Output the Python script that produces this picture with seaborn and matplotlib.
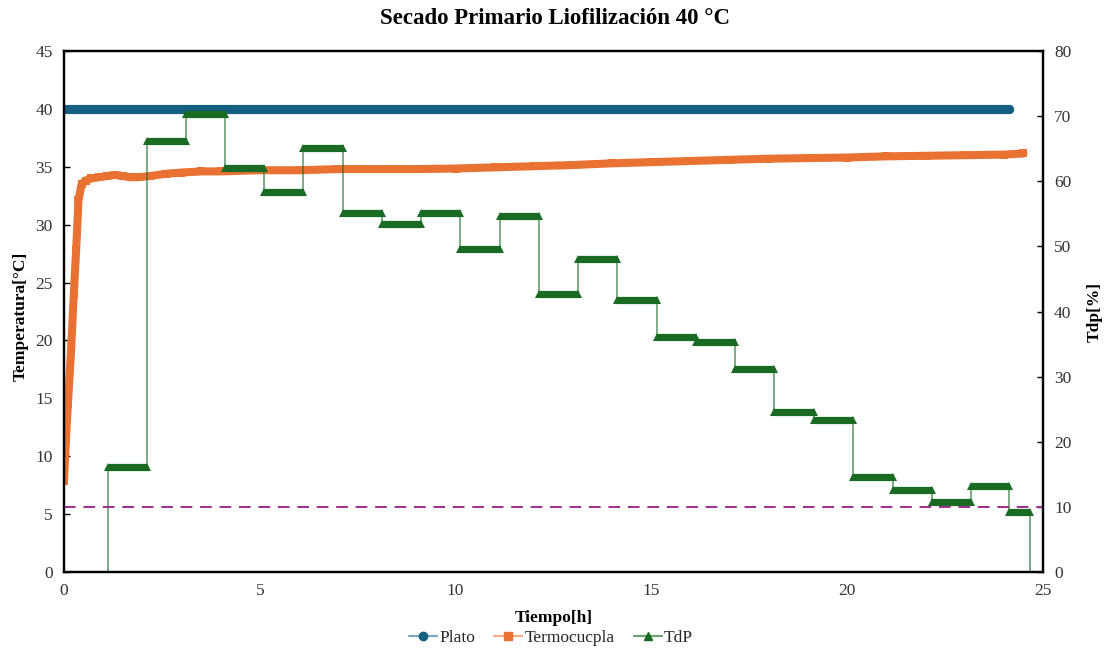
import matplotlib
matplotlib.use("Agg")
import matplotlib.pyplot as plt
from matplotlib.lines import Line2D
import pandas as pd
import seaborn as sns

# ---- data ----
plato_t = [0.0, 24.12]
plato_temp = [40.0, 40.0]

termo_t = [0.0, 0.05, 0.10, 0.18, 0.25, 0.31, 0.37, 0.45, 0.55, 0.70, 0.90,
           1.10, 1.30, 1.50, 1.70, 1.90, 2.20, 2.60, 3.00, 3.50, 4.00, 5.00,
           6.00, 7.00, 8.00, 9.00, 10.0, 11.0, 12.0, 13.0, 14.0, 15.0, 16.0,
           17.0, 18.0, 19.0, 20.0, 21.0, 22.0, 23.0, 24.0, 24.5]
termo_temp = [7.9, 11.5, 14.5, 19.1, 24.0, 27.8, 32.1, 33.5, 33.8, 34.0, 34.1,
              34.2, 34.3, 34.2, 34.1, 34.1, 34.2, 34.4, 34.5, 34.6, 34.6, 34.7,
              34.7, 34.8, 34.8, 34.8, 34.85, 34.95, 35.05, 35.15, 35.3, 35.4, 35.5,
              35.6, 35.7, 35.75, 35.8, 35.9, 35.95, 36.0, 36.05, 36.15]

# TdP: hourly readings, each held between consecutive edges
tdp_edges = [1.13, 2.13, 3.12, 4.11, 5.11, 6.10, 7.12, 8.12, 9.12, 10.12,
             11.13, 12.13, 13.13, 14.13, 15.14, 16.14, 17.14, 18.14, 19.14,
             20.14, 21.16, 22.17, 23.16, 24.13, 24.67]
tdp_values = [16.1, 66.2, 70.3, 62.1, 58.3, 65.1, 55.2, 53.5, 55.1, 49.6,
              54.6, 42.7, 48.1, 41.8, 36.1, 35.3, 31.1, 24.6, 23.3, 14.6,
              12.6, 10.7, 13.2, 9.2]
tdp_limit = 10.0

title = "Secado Primario Liofilización 40 °C"
x_ticks = [0, 5, 10, 15, 20, 25]
y_ticks = [0, 5, 10, 15, 20, 25, 30, 35, 40, 45]
y2_ticks = [0, 10, 20, 30, 40, 50, 60, 70, 80]

BLUE = "#156082"
ORANGE = "#E97132"
GREEN = "#196B24"
PURPLE = "#A02B93"

sns.set_theme(style="white")
plt.rcParams["font.family"] = ["Liberation Serif", "DejaVu Serif"]
plt.rcParams["axes.unicode_minus"] = False

W, H = 1105, 649
fig = plt.figure(figsize=(W / 100, H / 100), dpi=100)
ax = fig.add_axes([64 / W, 1 - 572 / H, (1043 - 64) / W, (572 - 51) / H])
ax2 = ax.twinx()

# Plate temperature
plato_df = pd.DataFrame({"t": plato_t, "temp": plato_temp})
sns.lineplot(data=plato_df, x="t", y="temp", ax=ax, color=BLUE, lw=6.6,
             marker="o", markersize=6.6, markeredgewidth=0,
             solid_capstyle="round", estimator=None, sort=False)

# Thermocouple
termo_df = pd.DataFrame({"t": termo_t, "temp": termo_temp})
sns.lineplot(data=termo_df, x="t", y="temp", ax=ax, color=ORANGE, lw=5.8,
             marker="s", markersize=5.2, markeredgewidth=0,
             estimator=None, sort=False)

# TdP: thin connecting step path
path_t, path_v = [tdp_edges[0]], [0.0]
for i, v in enumerate(tdp_values):
    path_t += [tdp_edges[i], tdp_edges[i + 1]]
    path_v += [v, v]
path_t.append(tdp_edges[-1])
path_v.append(0.0)
path_df = pd.DataFrame({"t": path_t, "v": path_v})
sns.lineplot(data=path_df, x="t", y="v", ax=ax2, color=GREEN, lw=1.3,
             alpha=0.6, estimator=None, sort=False)

# TdP: bold plateau for each reading
bars = pd.DataFrame({
    "t": [e for i in range(len(tdp_values)) for e in (tdp_edges[i], tdp_edges[i + 1])],
    "v": [v for v in tdp_values for _ in (0, 1)],
    "step": [i for i in range(len(tdp_values)) for _ in (0, 1)],
})
sns.lineplot(data=bars, x="t", y="v", units="step", ax=ax2, color=GREEN,
             lw=5.2, marker="^", markersize=5.6, markeredgewidth=0,
             solid_capstyle="butt", estimator=None, sort=False)

# TdP threshold
ax2.axhline(tdp_limit, color=PURPLE, lw=1.4, ls=(0, (6, 4)))

# ---- axes styling ----
ax.set_xlim(0, 25)
ax.set_ylim(0, 45)
ax2.set_ylim(0, 80)
ax.set_xticks(x_ticks)
ax.set_yticks(y_ticks)
ax2.set_yticks(y2_ticks)
ax.grid(False)
ax2.grid(False)

tick_color = "#333333"
for a in (ax, ax2):
    for s in a.spines.values():
        s.set_color("black")
        s.set_linewidth(1.6)
    a.tick_params(direction="in", length=4, width=1, color="black",
                  labelcolor=tick_color, labelsize=12.5)
ax.tick_params(axis="x", pad=8)
ax.tick_params(axis="y", pad=8)
ax2.tick_params(axis="y", pad=8)

ax.set_xlabel("Tiempo[h]", fontsize=12.5, fontweight="bold", color="black")
ax.set_ylabel("Temperatura[°C]", fontsize=12.5, fontweight="bold", color="black")
ax2.set_ylabel("Tdp[%]", fontsize=12.5, fontweight="bold", color="black")
ax.xaxis.set_label_coords(0.5, -0.072)
ax.yaxis.set_label_coords(-0.036, 0.49)
ax2.yaxis.set_label_coords(1.045, 0.5)

fig.suptitle(title, x=555 / W, y=1 - 18 / H, va="center",
             fontsize=16.5, fontweight="bold", color="black")

handles = [
    Line2D([], [], color="#7FA8C0", lw=1.6, marker="o", markersize=6,
           markerfacecolor=BLUE, markeredgecolor=BLUE),
    Line2D([], [], color="#F2AE87", lw=1.6, marker="s", markersize=6,
           markerfacecolor=ORANGE, markeredgecolor=ORANGE),
    Line2D([], [], color="#6FA077", lw=1.6, marker="^", markersize=6,
           markerfacecolor=GREEN, markeredgecolor=GREEN),
]
fig.legend(handles, ["Plato", "Termocucpla", "TdP"], loc="center",
           bbox_to_anchor=(551 / W, 1 - 638 / H), ncol=3, frameon=False,
           fontsize=12.5, handlelength=1.6, handletextpad=0.15,
           columnspacing=1.1, borderpad=0.1)

fig.savefig("out.png", dpi=100)
